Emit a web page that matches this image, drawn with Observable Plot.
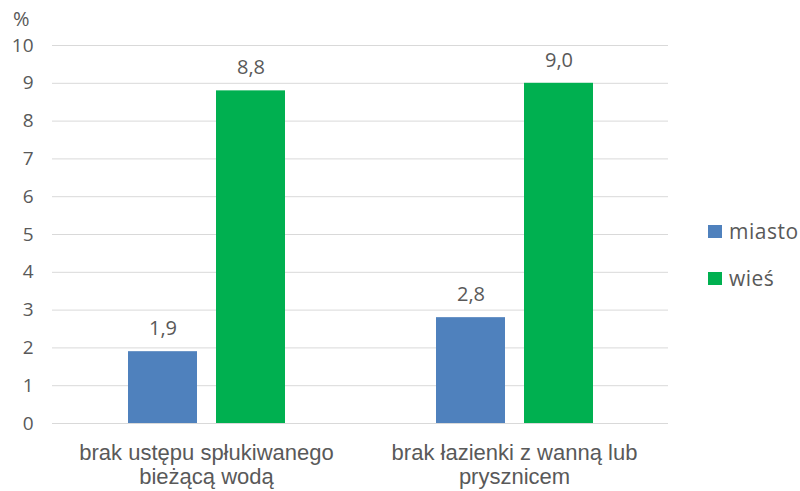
<!DOCTYPE html>
<html>
<head>
<meta charset="utf-8">
<script src="https://cdn.jsdelivr.net/npm/d3@7"></script>
<script src="https://cdn.jsdelivr.net/npm/@observablehq/plot@0.6"></script>
<style>
  html, body { margin: 0; padding: 0; background: #fff; }
  #wrap { position: relative; width: 800px; height: 491px; overflow: hidden; }
  #pct { position: absolute; left: 13px; top: 5px; font: 20px "Open Sans", sans-serif; color: #595959; }
  #legend { position: absolute; left: 708px; top: 215px; font: 21px "Open Sans", sans-serif; color: #595959; letter-spacing: 0.5px; }
  .li { display: flex; align-items: center; height: 32px; margin-bottom: 15px; }
  .sw { width: 14px; height: 13px; margin-right: 7px; }
</style>
</head>
<body>
<div id="wrap">
  <div id="chart"></div>
  <div id="pct">%</div>
  <div id="legend"></div>
</div>
<script>
const categories = ["brak ustępu spłukiwanego\nbieżącą wodą", "brak łazienki z wanną lub\nprysznicem"];
const series = ["miasto", "wieś"];
const miasto = [1.9, 2.8];
const wies = [8.8, 9.0];
const yTicks = [0, 1, 2, 3, 4, 5, 6, 7, 8, 9, 10];
const colors = ["#4f81bd", "#00b050"];

const data = [];
categories.forEach((c, i) => {
  data.push({cat: c, series: "miasto", value: miasto[i]});
  data.push({cat: c, series: "wieś", value: wies[i]});
});
const fmt = v => d3.format(".1f")(v).replace(".", ",");
const gray = "#595959";

const chart = Plot.plot({
  width: 800,
  height: 491,
  marginLeft: 52,
  marginRight: 132,
  marginTop: 45,
  marginBottom: 68,
  style: {fontFamily: "'Open Sans', sans-serif", color: gray, background: "transparent"},
  fx: {domain: categories, padding: 0, label: null},
  x: {domain: series, paddingInner: 0.216, paddingOuter: 0.858, axis: null},
  y: {domain: [0, 10], ticks: yTicks, label: null},
  color: {domain: series, range: colors},
  marks: [
    Plot.gridY(yTicks, {stroke: "#d9d9d9", strokeOpacity: 1, strokeWidth: 1}),
    Plot.axisY(yTicks, {tickSize: 0, tickPadding: 19, fontSize: 19, label: null, fill: gray}),
    Plot.axisFx({anchor: "bottom", tickSize: 0, tickPadding: 20, fontSize: 22, lineHeight: 1.08, label: null,
                 fontFamily: "'Liberation Sans', Arial, sans-serif", fill: gray}),
    Plot.barY(data, {fx: "cat", x: "series", y: "value", fill: "series"}),
    Plot.text(data, {fx: "cat", x: "series", y: "value", text: d => fmt(d.value), dy: -23,
                     fontSize: 20, fill: gray})
  ]
});
document.getElementById("chart").appendChild(chart);

const legend = document.getElementById("legend");
series.forEach((s, i) => {
  const row = document.createElement("div");
  row.className = "li";
  const sw = document.createElement("div");
  sw.className = "sw";
  sw.style.background = colors[i];
  const t = document.createElement("span");
  t.textContent = s;
  row.appendChild(sw);
  row.appendChild(t);
  legend.appendChild(row);
});
</script>
</body>
</html>
